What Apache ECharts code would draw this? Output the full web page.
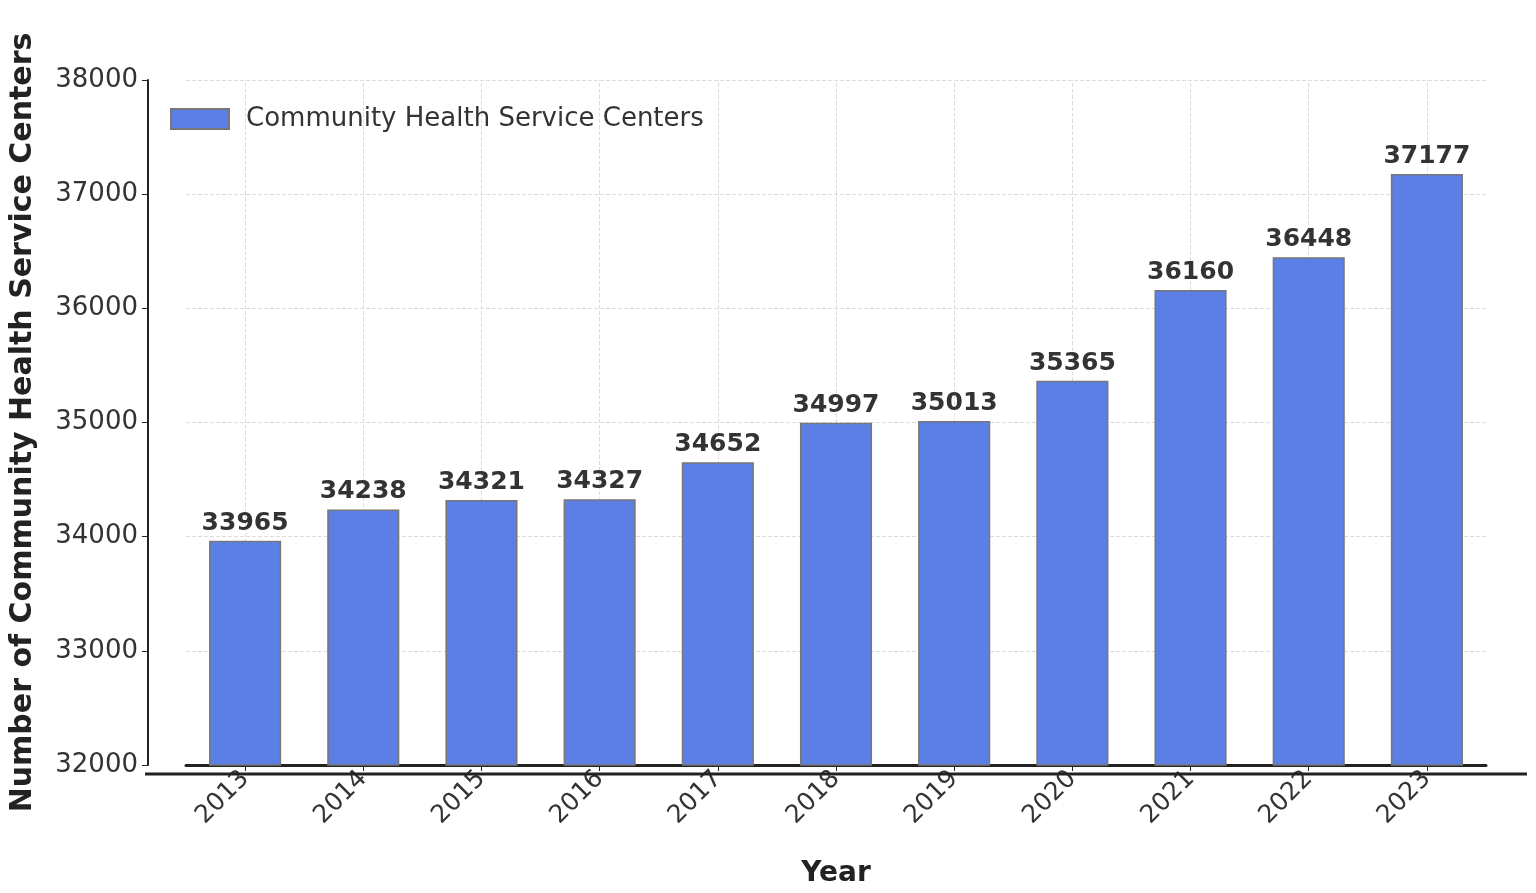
<!DOCTYPE html>
<html><head><meta charset="utf-8">
<script src="https://cdn.jsdelivr.net/npm/echarts@6/dist/echarts.min.js"></script>
<style>html,body{margin:0;padding:0;background:#fff}#c{width:1536px;height:893px}</style>
</head><body><div id="c"></div>
<script>
const years = ['2013','2014','2015','2016','2017','2018','2019','2020','2021','2022','2023'];
const centers = [33965,34238,34321,34327,34652,34997,35013,35365,36160,36448,37177];
const yTicks = {min:32000,max:38000,interval:1000};
const font = 'DejaVu Sans';
const chart = echarts.init(document.getElementById('c'));
chart.setOption({
  animation:false,
  textStyle:{fontFamily:font},
  grid:{left:183,right:50,top:80,bottom:119},
  graphic:[{type:'line',shape:{x1:145,y1:774,x2:1527,y2:774},style:{stroke:'#222',lineWidth:3},z:10}],
  legend:{left:160,top:100,icon:'rect',itemWidth:58,itemHeight:20,itemGap:10,
    padding:[6,10],textStyle:{fontSize:26,color:'#333',fontFamily:font,padding:[0,0,0,12]},
    data:['Community Health Service Centers']},
  xAxis:{type:'category',data:years,
    name:'Year',nameLocation:'middle',nameGap:95,
    nameTextStyle:{fontSize:28,fontWeight:'bold',color:'#222'},
    axisLine:{lineStyle:{color:'#222',width:3}},
    axisTick:{show:true,alignWithLabel:true,length:6,lineStyle:{color:'#222'}},
    axisLabel:{rotate:45,fontSize:25,color:'#333',margin:10},
    splitLine:{show:false}},
  yAxis:{type:'value',min:yTicks.min,max:yTicks.max,interval:yTicks.interval,offset:38,
    name:'Number of Community Health Service Centers',nameLocation:'middle',nameGap:110,
    nameTextStyle:{fontSize:30,fontWeight:'bold',color:'#222'},
    axisLine:{show:true,lineStyle:{color:'#222',width:2}},
    axisTick:{show:true,length:6,lineStyle:{color:'#222'}},
    axisLabel:{fontSize:26,color:'#333',margin:10,formatter:v=>String(v)},
    splitLine:{show:true,lineStyle:{type:'dashed',color:'#ddd'}}},
  series:[{name:'Community Health Service Centers',type:'bar',data:centers,barWidth:'61%',
    itemStyle:{color:'#5b7fe5',borderColor:'#777',borderWidth:1.5},
    label:{show:true,position:'top',distance:5,fontSize:25,fontWeight:'bold',color:'#333'},
    markLine:{silent:true,symbol:'none',label:{show:false},z:0,
      lineStyle:{type:'dashed',color:'#ddd',width:1},
      data:years.map(y=>({xAxis:y}))}}]
});
</script></body></html>
